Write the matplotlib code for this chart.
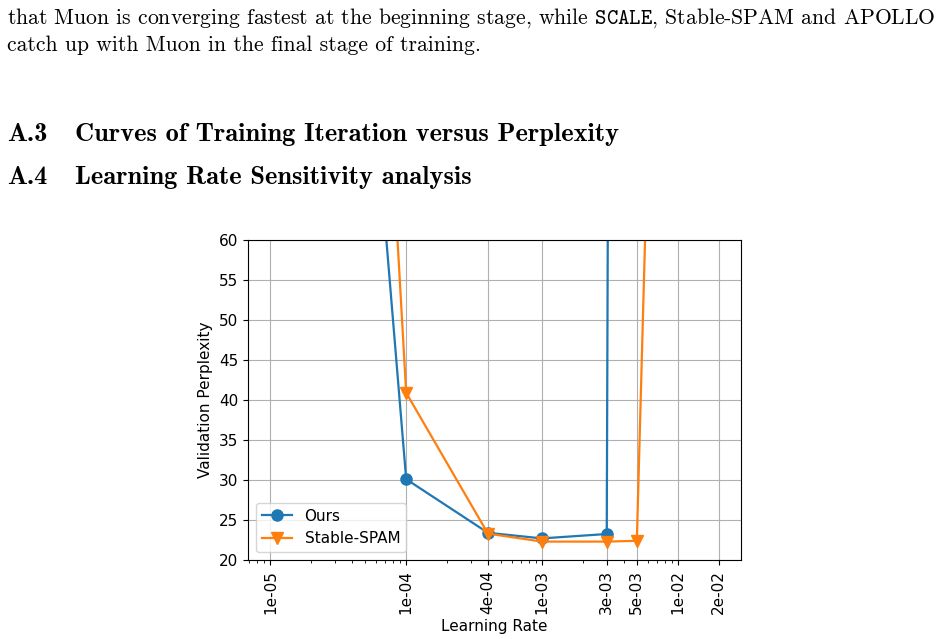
import matplotlib
matplotlib.use("Agg")
from matplotlib import pyplot as plt

# learning rates tried and final validation perplexity
lrs = [1e-5, 1e-4, 4e-4, 1e-3, 3e-3, 5e-3, 1e-2, 2e-2]
ours = [235, 30.1, 23.4, 22.7, 23.25, 1100, 1100, 1100]
stable_spam = [340, 40.9, 23.3, 22.3, 22.3, 22.4, 210, 210]

tick_vals = [1e-5, 1e-4, 4e-4, 1e-3, 3e-3, 5e-3, 1e-2, 2e-2]
tick_labels = ['1e-05', '1e-04', '4e-04', '1e-03', '3e-03', '5e-03', '1e-02', '2e-02']

plt.rcParams['mathtext.fontset'] = 'cm'
plt.rcParams['font.size'] = 11

fig = plt.figure(figsize=(9.47, 6.39), dpi=100)

# surrounding page text
W, H = 947, 639
body = dict(family='cmr10', fontsize=15.6, va='baseline', ha='left')
fig.text(7 / W, 1 - 24 / H,
         r"that Muon is converging fastest at the beginning stage, while $\mathtt{SCALE}$, Stable-SPAM and APOLLO",
         **body)
fig.text(7 / W, 1 - 51 / H, "catch up with Muon in the final stage of training.", **body)
head = dict(family='cmb10', fontsize=19, va='baseline', ha='left')
fig.text(7 / W, 1 - 141 / H, "A.3", **head)
fig.text(75 / W, 1 - 141 / H, "Curves of Training Iteration versus Perplexity", **head)
fig.text(7 / W, 1 - 184 / H, "A.4", **head)
fig.text(75 / W, 1 - 184 / H, "Learning Rate Sensitivity analysis", **head)

ax = fig.add_axes([248 / W, 79 / H, 493 / W, 320 / H])
ax.plot(lrs, ours, marker='o', markersize=8, linewidth=1.6, label='Ours')
ax.plot(lrs, stable_spam, marker='v', markersize=8, linewidth=1.6, label='Stable-SPAM')
ax.set_xscale('log')
ax.set_ylim(20, 60)
ax.set_xticks(tick_vals)
ax.set_xticklabels(tick_labels, rotation=90)
ax.set_xlabel('Learning Rate')
ax.set_ylabel('Validation Perplexity')
ax.grid(True, which='major')
ax.legend(loc='lower left')

fig.savefig('out.png', dpi=100)
